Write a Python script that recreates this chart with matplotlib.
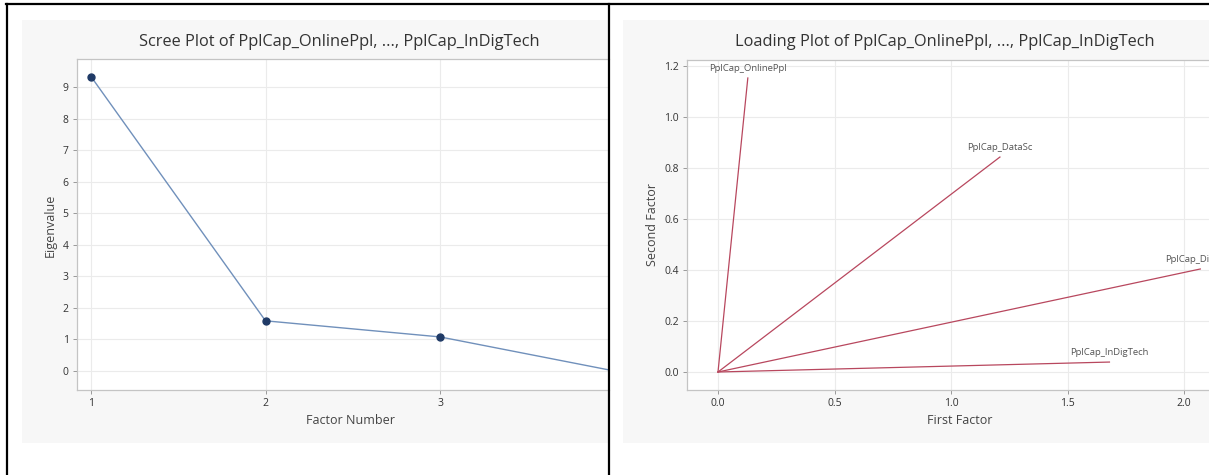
import matplotlib
matplotlib.use("Agg")
import matplotlib.pyplot as plt
import matplotlib.ticker as mticker
from matplotlib.lines import Line2D
from matplotlib.patches import Rectangle

# ---- data ----
factor_numbers = [1, 2, 3, 4]
eigenvalues = [9.33, 1.59, 1.08, 0.0]

loading_vars = ["PplCap_OnlinePpl", "PplCap_DataSc", "PplCap_DigSkills", "PplCap_InDigTech"]
first_factor = [0.128, 1.21, 2.07, 1.68]
second_factor = [1.153, 0.843, 0.404, 0.039]

scree_title = "Scree Plot of PplCap_OnlinePpl, ..., PplCap_InDigTech"
loading_title = "Loading Plot of PplCap_OnlinePpl, ..., PplCap_InDigTech"
scree_xlabel, scree_ylabel = "Factor Number", "Eigenvalue"
load_xlabel, load_ylabel = "First Factor", "Second Factor"
scree_xticks = [1, 2, 3]
scree_yticks = [0, 1, 2, 3, 4, 5, 6, 7, 8, 9]
load_xticks = [0.0, 0.5, 1.0, 1.5, 2.0]
load_yticks = [0.0, 0.2, 0.4, 0.6, 0.8, 1.0, 1.2]

W, H = 1209, 475
plt.rcParams['font.family'] = ['Open Sans', 'DejaVu Sans']
fig = plt.figure(figsize=(W / 100, H / 100), dpi=100)
fig.patch.set_facecolor('white')


def fx(px):
    return px / W


def fy(py):
    return 1 - py / H


# light gray chart panels
for x0, x1 in [(22, 609), (623, 1215)]:
    fig.patches.append(Rectangle((fx(x0), fy(443)), fx(x1) - fx(x0), fy(20) - fy(443),
                                 transform=fig.transFigure, facecolor='#f7f7f7',
                                 edgecolor='none', zorder=-5))


def style(ax):
    ax.set_facecolor('white')
    for s in ax.spines.values():
        s.set_color('#c4c4c4')
        s.set_linewidth(0.9)
    ax.grid(True, color='#ebebeb', linewidth=0.8)
    ax.set_axisbelow(True)
    ax.tick_params(colors='#9a9a9a', labelcolor='#333333', labelsize=7.5,
                   length=3, width=0.7, direction='out', pad=3)


# ---- scree plot ----
ax1 = fig.add_axes([fx(77), fy(390), fx(609) - fx(77), fy(59) - fy(390)])
style(ax1)
ax1.spines['right'].set_visible(False)
ax1.plot(factor_numbers, eigenvalues, color='#7090bb', lw=1.0, marker='o', ms=5,
         mfc='#1f3a66', mec='#1f3a66', zorder=3)
ax1.set_xlim(1 - 14 / 174.5, 3 + 169 / 174.5)
ax1.set_ylim((371 - 390) / 31.56, (371 - 59) / 31.56)
ax1.set_xticks(scree_xticks)
ax1.set_yticks(scree_yticks)

fig.text(fx(339), fy(42), scree_title, ha='center', va='center', fontsize=11.8, color='#333333')
fig.text(fx(351), fy(421), scree_xlabel, ha='center', va='center', fontsize=9, color='#444444')
fig.text(fx(50), fy(225), scree_ylabel, ha='center', va='center', rotation=90, fontsize=9, color='#444444')

# ---- loading plot ----
ax2 = fig.add_axes([fx(687), fy(390), fx(1260) - fx(687), fy(60) - fy(390)])
style(ax2)
ax2.set_xlim((687 - 718) / 233, (1260 - 718) / 233)
ax2.set_ylim((372 - 390) / 255, (372 - 60) / 255)
ax2.set_xticks(load_xticks)
ax2.set_yticks(load_yticks)
ax2.xaxis.set_major_formatter(mticker.FormatStrFormatter('%.1f'))
ax2.yaxis.set_major_formatter(mticker.FormatStrFormatter('%.1f'))
for name, xv, yv in zip(loading_vars, first_factor, second_factor):
    ax2.plot([0, xv], [0, yv], color='#b8475e', lw=0.9, zorder=3)
    ax2.annotate(name, (xv, yv), xytext=(0, 7), textcoords='offset points',
                 ha='center', va='center', fontsize=6.8, color='#555555',
                 annotation_clip=False)

fig.text(fx(945), fy(42), loading_title, ha='center', va='center', fontsize=11.8, color='#333333')
fig.text(fx(960), fy(421), load_xlabel, ha='center', va='center', fontsize=9, color='#444444')
fig.text(fx(652), fy(225), load_ylabel, ha='center', va='center', rotation=90, fontsize=9, color='#444444')

# ---- table cell borders ----
for (x0, y0, x1, y1) in [(6, 4, 1209, 4), (7, 4, 7, 475), (609, 4, 609, 475)]:
    fig.add_artist(Line2D([fx(x0), fx(x1)], [fy(y0), fy(y1)], transform=fig.transFigure,
                          color='black', lw=1.6, zorder=10))

fig.savefig('out.png', dpi=100)
